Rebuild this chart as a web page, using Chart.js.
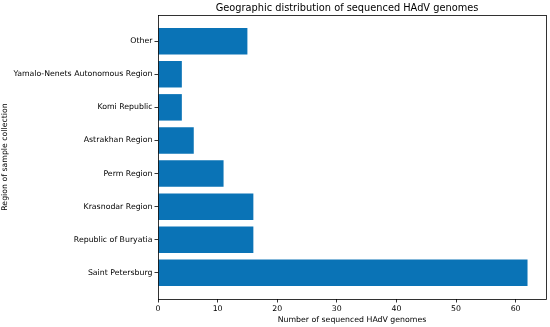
<!DOCTYPE html>
<html>
<head>
<meta charset="utf-8">
<script src="https://cdn.jsdelivr.net/npm/chart.js@4"></script>
<style>
  html,body{margin:0;padding:0;background:#fff;}
  #wrap{width:550px;height:327px;position:relative;}
</style>
</head>
<body>
<div id="wrap"><canvas id="chart"></canvas></div>
<script>
// bottom to top, as in the picture
const regions = ['Saint Petersburg','Republic of Buryatia','Krasnodar Region','Perm Region','Astrakhan Region','Komi Republic','Yamalo-Nenets Autonomous Region','Other'];
const genomes = [62,16,16,11,6,4,4,15];
const xTicks = [0,10,20,30,40,50,60];
const titleText = 'Geographic distribution of sequenced HAdV genomes';

const FONT = 'DejaVu Sans';
const BAR = '#0a73b6';

// box around the plot area + title centred over the axes, like matplotlib
const frame = {
  id:'frame',
  afterDatasetsDraw(c){
    const a = c.chartArea, g = c.ctx;
    g.save();
    g.strokeStyle = '#000'; g.lineWidth = 0.8;
    g.strokeRect(a.left+0.5, a.top+0.5, a.right-a.left, a.bottom-a.top);
    g.fillStyle = '#000';
    g.font = '9.8px "' + FONT + '"';
    g.textAlign = 'center'; g.textBaseline = 'alphabetic';
    g.fillText(titleText, (a.left+a.right)/2 - 5, a.top - 4);
    g.restore();
  }
};

new Chart(document.getElementById('chart'), {
  type:'bar',
  data:{
    datasets:[{
      data: genomes.map((v,i)=>({x:v, y:i})),
      backgroundColor: BAR,
      barPercentage: 0.8,
      categoryPercentage: 1
    }]
  },
  options:{
    indexAxis:'y',
    responsive:true, maintainAspectRatio:false, animation:false,
    layout:{ padding:{ top:15, right:4, left:0, bottom:0 } },
    plugins:{
      legend:{ display:false },
      tooltip:{ enabled:false },
      title:{ display:false }
    },
    scales:{
      x:{
        type:'linear', min:0, max:65.1,
        afterBuildTicks: s => { s.ticks = xTicks.map(v=>({value:v})); },
        ticks:{ color:'#000', font:{ family:FONT, size:7.8 }, padding:2, maxRotation:0 },
        grid:{ drawOnChartArea:false, drawTicks:true, tickLength:3.5, color:'#000', lineWidth:0.8 },
        border:{ display:false },
        title:{ display:true, text:'Number of sequenced HAdV genomes', color:'#000',
          font:{ family:FONT, size:7.8 }, padding:{ top:1, bottom:2 } },
        afterFit: s => { s.height = 28; }
      },
      y:{
        type:'linear', min:-0.79, max:7.79, offset:false,
        afterBuildTicks: s => { s.ticks = regions.map((_,i)=>({value:i})); },
        ticks:{ color:'#000', font:{ family:FONT, size:7.8 }, padding:2,
          callback: v => regions[v] },
        grid:{ offset:false, drawOnChartArea:false, drawTicks:true, tickLength:3.5, color:'#000', lineWidth:0.8 },
        border:{ display:false },
        title:{ display:true, text:'Region of sample collection', color:'#000',
          font:{ family:FONT, size:7.8 }, padding:{ top:0, bottom:2 } },
        afterFit: s => { s.width = 158; }
      }
    }
  },
  plugins:[frame]
});
</script>
</body>
</html>
